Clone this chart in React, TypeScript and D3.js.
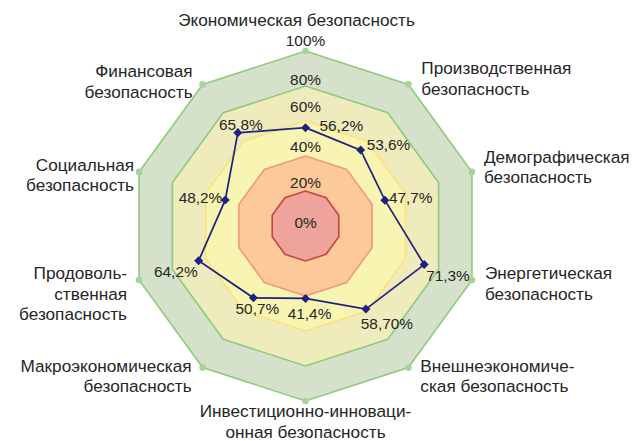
import * as d3 from "d3";
import React from "react";

// axes, clockwise from the top
const categories = [
  ["Экономическая безопасность"],
  ["Производственная", "безопасность"],
  ["Демографическая", "безопасность"],
  ["Энергетическая", "безопасность"],
  ["Внешнеэкономиче-", "ская безопасность"],
  ["Инвестиционно-инноваци-", "онная безопасность"],
  ["Макроэкономическая", "безопасность"],
  ["Продоволь-", "ственная", "безопасность"],
  ["Социальная", "безопасность"],
  ["Финансовая", "безопасность"],
];
const values = [56.2, 53.6, 47.7, 71.3, 58.7, 41.4, 50.7, 64.2, 48.2, 65.8];
const valueLabels = ["56,2%", "53,6%", "47,7%", "71,3%", "58,70%", "41,4%", "50,7%", "64,2%", "48,2%", "65,8%"];
const ticks = [0, 20, 40, 60, 80, 100];
const tickLabels = ["0%", "20%", "40%", "60%", "80%", "100%"];

const W = 637;
const H = 441;
const CX = 305.5;
const CY = 226;
const R = 175;

// band fills/strokes, outer to inner
const bands = [
  { v: 100, fill: "#d5e1cb", stroke: "#8fcb7c" },
  { v: 80, fill: "#efebbd", stroke: "#8fcb7c" },
  { v: 60, fill: "#f8f4b2", stroke: "#fbe27a" },
  { v: 40, fill: "#fbc99a", stroke: "#f2987c" },
  { v: 20, fill: "#eea39b", stroke: "#c8453f" },
];

// where the category text sits around the outer vertex
const catPlace: { anchor: string; dx: number; dy: number }[] = [
  { anchor: "middle", dx: -9, dy: -31 },
  { anchor: "start", dx: 13, dy: -16 },
  { anchor: "start", dx: 12, dy: -15 },
  { anchor: "start", dx: 13, dy: -7 },
  { anchor: "start", dx: 12, dy: -2 },
  { anchor: "middle", dx: 0, dy: 10 },
  { anchor: "end", dx: -11, dy: -2 },
  { anchor: "end", dx: -12, dy: -7 },
  { anchor: "end", dx: -5, dy: -7 },
  { anchor: "end", dx: -10, dy: -13 },
];

// data label offsets from the marker
const valPlace: { anchor: string; dx: number; dy: number }[] = [
  { anchor: "start", dx: 14, dy: -2 },
  { anchor: "start", dx: 6, dy: -6 },
  { anchor: "start", dx: 4, dy: -3 },
  { anchor: "start", dx: 2, dy: 11 },
  { anchor: "middle", dx: 21, dy: 15 },
  { anchor: "middle", dx: 4, dy: 15 },
  { anchor: "middle", dx: 4, dy: 11 },
  { anchor: "end", dx: -1, dy: 11 },
  { anchor: "end", dx: -3, dy: -2 },
  { anchor: "middle", dx: 3, dy: -8 },
];
const tickNudge = [-3, -8, -9, -14, -6, -10];

export default function App() {
  const n = categories.length;
  const r = d3.scaleLinear().domain([0, 100]).range([0, R]);
  const angle = (i: number) => (i * 2 * Math.PI) / n;
  const pt = (i: number, v: number): [number, number] => [
    CX + r(v) * Math.sin(angle(i)),
    CY - r(v) * Math.cos(angle(i)),
  ];

  const radial = d3
    .lineRadial<number>()
    .angle((_, i) => angle(i))
    .curve(d3.curveLinearClosed);

  const ring = (v: number) => radial.radius(() => r(v))(d3.range(n))!;
  const dataPath = radial.radius((d) => r(d))(values)!;

  const font = "'Liberation Sans', Arial, sans-serif";
  const textColor = "#262626";

  return (
    <svg
      width={W}
      height={H}
      style={{ position: "absolute", left: 0, top: 0, background: "#fff" }}
      fontFamily={font}
    >
      <g transform={`translate(${CX},${CY})`}>
        {bands.map((b) => (
          <path key={b.v} d={ring(b.v)} fill={b.fill} stroke={b.stroke} strokeWidth={1.6} />
        ))}
      </g>
      {d3.range(n).map((i) => {
        const [x, y] = pt(i, 100);
        return <circle key={i} cx={x} cy={y} r={3.3} fill="#a6d39c" />;
      })}

      {ticks.map((t, i) => (
        <text
          key={t}
          x={CX}
          y={CY - r(t) + tickNudge[i]}
          dy="0.35em"
          textAnchor="middle"
          fontSize={15.4}
          fill={textColor}
        >
          {tickLabels[i]}
        </text>
      ))}

      <path
        d={dataPath}
        transform={`translate(${CX},${CY})`}
        fill="none"
        stroke="#1f2180"
        strokeWidth={1.7}
      />
      {values.map((v, i) => {
        const [x, y] = pt(i, v);
        return (
          <path
            key={i}
            d={`M${x},${y - 4.5}L${x + 4.5},${y}L${x},${y + 4.5}L${x - 4.5},${y}Z`}
            fill="#1f2180"
          />
        );
      })}
      {values.map((v, i) => {
        const [x, y] = pt(i, v);
        const p = valPlace[i];
        return (
          <text
            key={i}
            x={x + p.dx}
            y={y + p.dy}
            dy="0.35em"
            textAnchor={p.anchor}
            fontSize={15.4}
            fill={textColor}
          >
            {valueLabels[i]}
          </text>
        );
      })}

      {categories.map((lines, i) => {
        const [x, y] = pt(i, 100);
        const p = catPlace[i];
        return (
          <text key={i} textAnchor={p.anchor} fontSize={17.2} fill={textColor}>
            {lines.map((l, j) => (
              <tspan key={j} x={x + p.dx} y={y + p.dy + j * 20.5} dy="0.35em">
                {l}
              </tspan>
            ))}
          </text>
        );
      })}
    </svg>
  );
}
